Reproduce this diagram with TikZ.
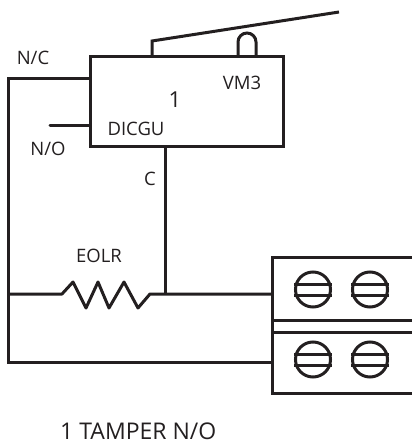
\documentclass[tikz,border=0pt]{standalone}
\usepackage{fontspec}
\setmainfont{Open Sans}
\definecolor{ink}{HTML}{231F20}
\tikzset{
  wire/.style={draw=ink,line width=3pt,line cap=butt,line join=miter},
  lbl/.style={text=ink,inner sep=0pt,font=\fontsize{18.5}{21}\selectfont},
  screw/.style={circle,draw=ink,line width=3pt,minimum size=35pt,inner sep=0pt},
}
\begin{document}
\begin{tikzpicture}[x=1pt,y=-1pt]
\useasboundingbox (0,0) rectangle (412,447);
% switch body
\node[draw=ink,line width=3pt,minimum width=193pt,minimum height=90pt,inner sep=0pt] (body) at (186.5,101) {};
\node[lbl,font=\fontsize{22}{26}\selectfont] (one) at (175,100) {1};
\node[lbl] (vm) at (242,83) {VM3};
\node[lbl] (dicgu) at (136,129) {DICGU};
% lever and plunger
\coordinate (levA) at (152,56);
\coordinate (levB) at (152,41);
\coordinate (levC) at (339,12);
\draw[wire] (levA) -- (levB) -- (levC);
\coordinate (plA) at (238,56);
\coordinate (plB) at (256,56);
\draw[wire] (plA) -- (238,42) arc[start angle=180,end angle=360,radius=9] -- (plB);
% terminals
\coordinate (tTopR) at (412,257);
\coordinate (tTopL) at (272,257);
\coordinate (tBotL) at (272,393);
\coordinate (tBotR) at (412,393);
\draw[wire] (tTopR) -- (tTopL) -- (tBotL) -- (tBotR);
\coordinate (m1L) at (272,320); \coordinate (m1R) at (412,320);
\coordinate (m2L) at (272,332); \coordinate (m2R) at (412,332);
\draw[wire] (m1L) -- (m1R);
\draw[wire] (m2L) -- (m2R);
\foreach \n/\x/\y in {a/313/289.5,b/370/289.5,c/313/359.5,d/370/359.5}{
  \node[screw] (\n) at (\x,\y) {};
  \draw[wire] ([yshift=-5.5pt]\n.west) -- ([yshift=-5.5pt]\n.east);
  \draw[wire] ([yshift=5.5pt]\n.west) -- ([yshift=5.5pt]\n.east);
}
% wiring
\coordinate (nc) at (90,78);
\coordinate (ncL) at (8,78);
\coordinate (botL) at (8,362);
\coordinate (botR) at (272,362);
\draw[wire] (nc) -- (ncL) -- (botL) -- (botR);
\coordinate (no) at (90,125);
\coordinate (noE) at (50,125);
\draw[wire,line cap=round] (no) -- (noE);
\coordinate (cT) at (165,146);
\coordinate (cB) at (165,294);
\draw[wire] (cT) -- (cB);
\coordinate (midL) at (8,294);
\coordinate (midR) at (272,294);
\draw[wire,line join=round] (midL) -- (62,294) -- (73,282) -- (86,308) -- (98,282) -- (109,308) -- (124,282) -- (138,308) -- (150,294) -- (midR);
% labels
\node[lbl] (lnc) at (33,58) {N/C};
\node[lbl] (lno) at (48,149) {N/O};
\node[lbl] (lc) at (150,179) {C};
\node[lbl] (leolr) at (99,256) {EOLR};
\node[lbl,font=\fontsize{23}{26}\selectfont,anchor=west] (title) at (60,431) {1 TAMPER N/O};
\end{tikzpicture}
\end{document}
